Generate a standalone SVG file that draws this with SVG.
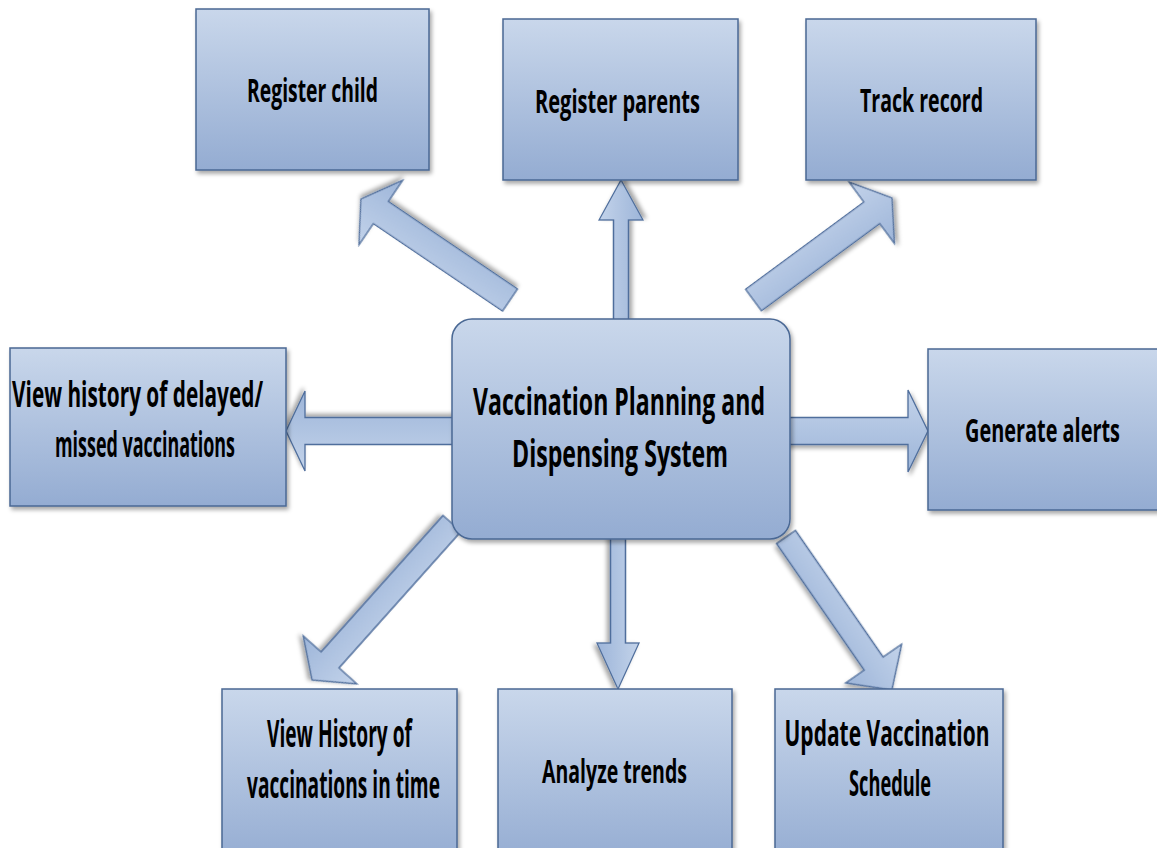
<svg xmlns="http://www.w3.org/2000/svg" width="1157" height="848" viewBox="0 0 1157 848">
<defs>
<linearGradient id="gBox" x1="0" y1="0" x2="0" y2="1">
<stop offset="0" stop-color="#c9d7eb"/>
<stop offset="1" stop-color="#94acd2"/>
</linearGradient>
<linearGradient id="gArr" x1="0" y1="0" x2="0" y2="1">
<stop offset="0" stop-color="#c3d3ea"/>
<stop offset="1" stop-color="#9db5d9"/>
</linearGradient>
<filter id="sh" x="-10%" y="-10%" width="130%" height="130%">
<feDropShadow dx="2" dy="3" stdDeviation="2" flood-color="#000" flood-opacity="0.35"/>
</filter>
</defs>
<style>
.box{fill:url(#gBox);stroke:#4a6894;stroke-width:1.5;filter:url(#sh)}
.arr{fill:url(#gArr);stroke:#4f6e9c;stroke-width:1.3;stroke-linejoin:miter;filter:url(#sh)}
.t{font-family:"Open Sans","Liberation Sans",sans-serif;font-weight:bold;fill:#000;text-anchor:middle}
</style>
<rect width="1157" height="848" fill="#fff"/>
<g id="connectors">
<polygon class="arr" transform="translate(621,325) rotate(-90)" points="0,-7.5 105,-7.5 105,-22 145,0 105,22 105,7.5 0,7.5"/>
<polygon class="arr" transform="translate(618,535) rotate(90)" points="0,-7.5 108,-7.5 108,-21 154,0 108,21 108,7.5 0,7.5"/>
<polygon class="arr" transform="translate(460,431) rotate(180)" points="0,-13.5 155,-13.5 155,-40 174,0 155,40 155,13.5 0,13.5"/>
<polygon class="arr" transform="translate(785,431)" points="0,-13.5 123,-13.5 123,-41 143,0 123,41 123,13.5 0,13.5"/>
<polygon class="arr" transform="translate(510,300) rotate(-145.9)" points="0,-13.3 156,-13.3 156,-39 180,0 156,39 156,13.3 0,13.3"/>
<polygon class="arr" transform="translate(753.5,300) rotate(-36.4)" points="0,-13.3 147,-13.3 147,-38 172,0 147,38 147,13.3 0,13.3"/>
<polygon class="arr" transform="translate(452,523.5) rotate(131.8)" points="0,-12 183,-12 183,-36 210,0 183,36 183,12 0,12"/>
<polygon class="arr" transform="translate(786,537) rotate(55.3)" points="0,-11.5 154,-11.5 154,-34 186,0 154,34 154,11.5 0,11.5"/>
</g>
<g id="center">
<rect class="box" x="452" y="319" width="338" height="220" rx="20"/>
<text class="t" transform="translate(619,415) scale(1,1.75)" font-size="21.7" textLength="292" lengthAdjust="spacingAndGlyphs">Vaccination Planning and</text>
<text class="t" transform="translate(620,467) scale(1,1.67)" font-size="22.7" textLength="216" lengthAdjust="spacingAndGlyphs">Dispensing System</text>
</g>
<g id="register-child">
<rect class="box" x="196" y="9" width="233" height="161"/>
<text class="t" transform="translate(312.5,102) scale(1,1.92)" font-size="16.7" textLength="131" lengthAdjust="spacingAndGlyphs">Register child</text>
</g>
<g id="register-parents">
<rect class="box" x="503" y="19" width="235" height="161"/>
<text class="t" transform="translate(617.5,113) scale(1,1.79)" font-size="18.4" textLength="165" lengthAdjust="spacingAndGlyphs">Register parents</text>
</g>
<g id="track-record">
<rect class="box" x="806" y="19" width="230" height="161"/>
<text class="t" transform="translate(921.5,112) scale(1,1.75)" font-size="18.3" textLength="123" lengthAdjust="spacingAndGlyphs">Track record</text>
</g>
<g id="view-delayed">
<rect class="box" x="10" y="348" width="276" height="158"/>
<text class="t" transform="translate(137.5,407) scale(1,1.93)" font-size="18.7" textLength="251" lengthAdjust="spacingAndGlyphs">View history of delayed/</text>
<text class="t" transform="translate(145,457) scale(1,2.13)" font-size="16.9" textLength="180" lengthAdjust="spacingAndGlyphs">missed vaccinations</text>
</g>
<g id="generate-alerts">
<rect class="box" x="928" y="349" width="232" height="161"/>
<text class="t" transform="translate(1042.5,442) scale(1,1.78)" font-size="18.5" textLength="155" lengthAdjust="spacingAndGlyphs">Generate alerts</text>
</g>
<g id="view-history">
<rect class="box" x="222" y="689" width="235" height="175"/>
<text class="t" transform="translate(339.5,747) scale(1,2.14)" font-size="17.3" textLength="145" lengthAdjust="spacingAndGlyphs">View History of</text>
<text class="t" transform="translate(343.5,798) scale(1,2.15)" font-size="17.2" textLength="193" lengthAdjust="spacingAndGlyphs">vaccinations in time</text>
</g>
<g id="analyze-trends">
<rect class="box" x="498" y="689" width="234" height="175"/>
<text class="t" transform="translate(614.5,783) scale(1,1.73)" font-size="18.5" textLength="145" lengthAdjust="spacingAndGlyphs">Analyze trends</text>
</g>
<g id="update-schedule">
<rect class="box" x="775" y="689" width="228" height="175"/>
<text class="t" transform="translate(887,746) scale(1,1.77)" font-size="20.3" textLength="205" lengthAdjust="spacingAndGlyphs">Update Vaccination</text>
<text class="t" transform="translate(890,796) scale(1,1.97)" font-size="18.3" textLength="82" lengthAdjust="spacingAndGlyphs">Schedule</text>
</g>
</svg>
